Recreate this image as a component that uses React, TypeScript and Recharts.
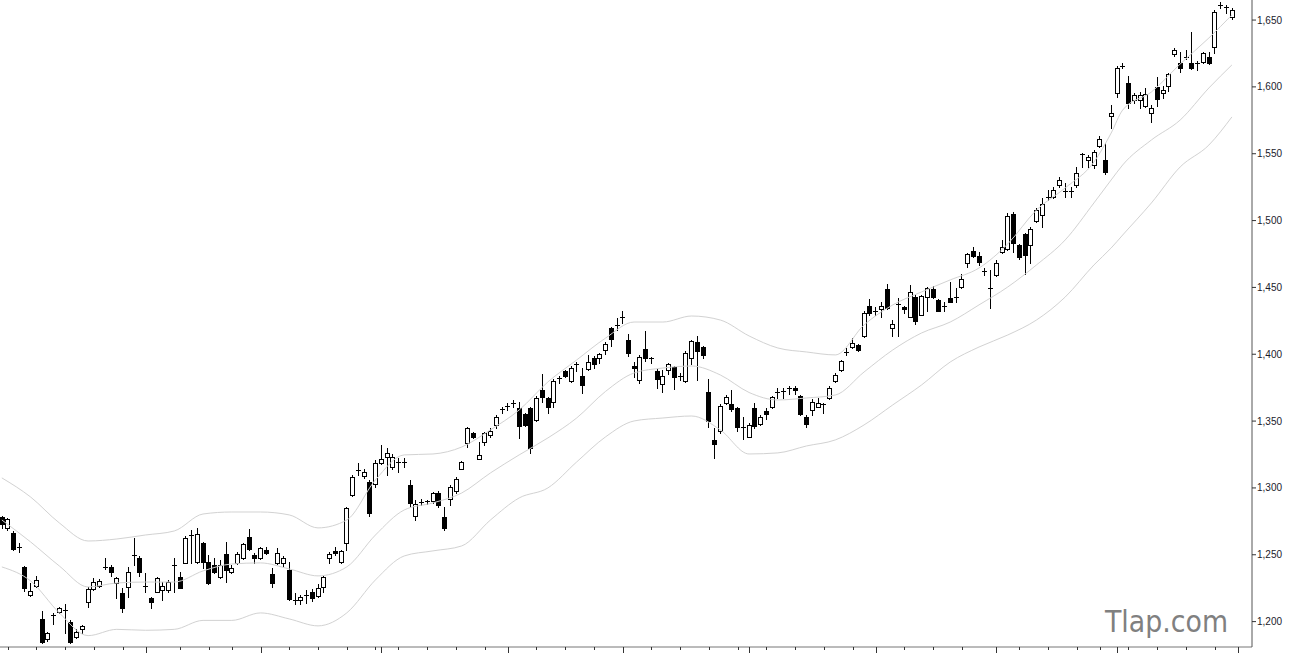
import React from 'react';
import { ComposedChart, Bar, Line, XAxis, YAxis } from 'recharts';

const opens = [
  1278.3, 1270.1, 1266.4, 1255.1, 1240.9, 1219.9, 1226.7, 1202.0, 1187.0, 1205.3,
  1207.2, 1208.9, 1199.7, 1188.5, 1194.5, 1214.7, 1224.4, 1226.7, 1240.6, 1240.9,
  1228.9, 1221.4, 1225.9, 1249.6, 1247.6, 1227.0, 1217.7, 1222.2, 1223.7, 1223.7,
  1242.0, 1233.4, 1243.9, 1264.5, 1244.6, 1258.8, 1244.6, 1242.4, 1233.4, 1250.6,
  1237.2, 1243.9, 1247.6, 1263.3, 1249.9, 1247.6, 1253.6, 1235.6, 1243.9, 1243.9,
  1238.6, 1216.2, 1216.2, 1219.6, 1222.2, 1219.2, 1225.9, 1247.6, 1252.9, 1244.6,
  1258.8, 1294.7, 1313.0, 1309.0, 1304.5, 1303.0, 1318.7, 1323.2, 1315.7, 1319.6,
  1319.2, 1302.2, 1279.0, 1289.3, 1289.5, 1290.2, 1296.2, 1278.3, 1291.7, 1297.7,
  1314.2, 1333.6, 1341.1, 1321.7, 1334.4, 1339.6, 1347.1, 1358.9, 1361.1, 1363.4,
  1359.8, 1355.3, 1359.8, 1350.8, 1373.3, 1367.3, 1364.3, 1382.0, 1387.5, 1380.0,
  1392.4, 1383.8, 1389.0, 1397.2, 1397.2, 1403.2, 1419.7, 1421.6, 1428.0, 1410.5,
  1391.2, 1380.8, 1404.0, 1397.5, 1387.5, 1377.4, 1388.2, 1390.4, 1383.6, 1380.0,
  1397.2, 1409.0, 1405.5, 1372.1, 1335.9, 1342.6, 1363.6, 1362.8, 1359.8, 1345.9,
  1338.1, 1359.8, 1347.8, 1357.6, 1360.6, 1371.8, 1372.4, 1374.8, 1375.1, 1368.8,
  1353.1, 1358.3, 1360.6, 1362.6, 1367.3, 1380.0, 1388.2, 1401.5, 1405.2, 1406.9,
  1413.5, 1436.1, 1432.2, 1433.9, 1448.8, 1419.7, 1437.4, 1435.4, 1427.9, 1442.8,
  1429.7, 1442.8, 1448.8, 1440.6, 1436.3, 1442.1, 1442.6, 1450.3, 1468.3, 1477.3,
  1473.5, 1462.1, 1449.8, 1459.3, 1476.5, 1478.7, 1504.9, 1481.7, 1489.9, 1481.7,
  1499.7, 1504.2, 1517.4, 1517.6, 1526.6, 1522.3, 1522.0, 1526.6, 1550.0, 1545.3,
  1541.6, 1555.8, 1545.3, 1578.2, 1595.4, 1615.4, 1602.9, 1590.2, 1590.2, 1585.7,
  1580.5, 1599.9, 1595.4, 1600.7, 1624.6, 1617.9, 1622.2, 1617.9, 1617.7, 1618.6,
  1622.4, 1629.8, 1661.1, 1659.6, 1652.3,
];

const highs = [
  1279.0, 1277.5, 1267.9, 1258.8, 1241.5, 1228.9, 1234.2, 1208.0, 1192.0, 1206.5,
  1211.0, 1213.2, 1201.2, 1194.5, 1197.2, 1225.9, 1232.7, 1232.0, 1247.6, 1242.4,
  1233.4, 1225.2, 1240.9, 1262.6, 1249.1, 1236.4, 1218.2, 1233.4, 1229.6, 1231.1,
  1247.6, 1237.2, 1264.1, 1268.6, 1270.1, 1259.5, 1249.9, 1247.6, 1246.1, 1259.5,
  1242.4, 1252.1, 1258.8, 1269.3, 1251.4, 1255.8, 1255.8, 1240.1, 1255.1, 1249.1,
  1244.6, 1221.4, 1219.9, 1223.7, 1224.4, 1228.2, 1234.9, 1252.1, 1255.8, 1253.6,
  1285.8, 1309.7, 1318.7, 1314.2, 1306.0, 1320.9, 1332.1, 1329.9, 1325.4, 1322.4,
  1322.4, 1306.0, 1291.0, 1291.7, 1291.0, 1297.0, 1297.7, 1285.8, 1302.2, 1308.2,
  1319.8, 1345.6, 1341.9, 1334.4, 1341.9, 1344.9, 1354.6, 1360.6, 1363.6, 1365.8,
  1364.3, 1356.1, 1360.6, 1368.8, 1385.2, 1368.1, 1381.5, 1383.8, 1388.2, 1391.2,
  1394.2, 1389.7, 1399.5, 1398.7, 1401.0, 1409.2, 1420.4, 1427.1, 1432.7, 1415.0,
  1394.2, 1399.5, 1417.4, 1398.0, 1389.0, 1388.2, 1393.5, 1391.2, 1386.0, 1402.5,
  1410.5, 1413.5, 1406.2, 1381.5, 1344.9, 1362.8, 1369.5, 1373.3, 1360.6, 1353.1,
  1348.6, 1363.6, 1354.6, 1359.8, 1368.8, 1374.4, 1375.1, 1376.6, 1375.9, 1369.5,
  1354.6, 1366.6, 1367.3, 1363.6, 1375.9, 1386.0, 1395.7, 1404.7, 1412.0, 1407.7,
  1432.0, 1441.3, 1435.4, 1439.1, 1452.6, 1425.6, 1442.1, 1435.8, 1451.8, 1444.3,
  1444.3, 1450.3, 1451.1, 1441.3, 1439.1, 1454.1, 1449.6, 1460.0, 1475.8, 1480.2,
  1476.5, 1464.5, 1463.0, 1470.5, 1485.5, 1505.7, 1506.4, 1482.1, 1490.7, 1495.2,
  1509.4, 1516.9, 1522.9, 1525.1, 1532.6, 1528.1, 1525.1, 1540.1, 1550.6, 1549.1,
  1552.8, 1563.3, 1558.0, 1586.5, 1615.6, 1617.9, 1608.2, 1595.4, 1596.2, 1599.2,
  1586.5, 1607.4, 1600.7, 1610.4, 1629.1, 1626.1, 1627.6, 1641.1, 1619.4, 1626.1,
  1626.1, 1657.5, 1663.5, 1661.3, 1659.0,
];

const lows = [
  1270.1, 1268.6, 1253.6, 1252.1, 1222.9, 1219.4, 1226.0, 1184.1, 1185.5, 1198.2,
  1206.8, 1191.5, 1184.1, 1187.8, 1191.5, 1211.0, 1224.0, 1225.9, 1239.4, 1234.2,
  1217.7, 1207.2, 1218.4, 1242.4, 1234.2, 1222.2, 1210.2, 1221.8, 1216.2, 1222.2,
  1222.2, 1224.8, 1243.5, 1243.9, 1244.0, 1240.1, 1228.2, 1236.4, 1232.7, 1229.6,
  1236.4, 1243.1, 1246.9, 1253.6, 1243.9, 1246.9, 1250.6, 1225.9, 1243.1, 1240.9,
  1216.2, 1213.2, 1213.2, 1213.9, 1215.4, 1218.4, 1222.2, 1243.9, 1249.9, 1244.2,
  1253.6, 1294.0, 1309.7, 1307.5, 1279.0, 1300.7, 1318.0, 1309.7, 1314.2, 1311.9,
  1315.7, 1285.8, 1276.0, 1287.3, 1288.0, 1288.8, 1285.8, 1268.6, 1287.3, 1296.2,
  1313.9, 1330.6, 1337.4, 1321.4, 1332.1, 1338.1, 1344.9, 1356.1, 1358.3, 1360.6,
  1337.4, 1346.3, 1326.2, 1350.1, 1364.3, 1356.1, 1360.6, 1378.5, 1383.0, 1379.2,
  1387.5, 1371.1, 1388.2, 1389.7, 1393.5, 1400.2, 1406.2, 1418.2, 1423.7, 1398.7,
  1383.0, 1378.5, 1395.0, 1393.5, 1374.4, 1372.1, 1385.2, 1374.0, 1380.8, 1379.6,
  1392.7, 1380.8, 1397.2, 1345.6, 1322.4, 1341.1, 1362.8, 1357.6, 1342.6, 1336.6,
  1337.8, 1344.9, 1347.1, 1351.6, 1359.8, 1367.3, 1367.3, 1370.6, 1369.9, 1354.6,
  1345.6, 1354.6, 1360.3, 1356.1, 1366.6, 1379.3, 1387.5, 1399.5, 1404.7, 1402.8,
  1412.8, 1429.0, 1429.0, 1427.9, 1433.9, 1413.7, 1413.5, 1430.9, 1427.5, 1423.0,
  1429.0, 1432.7, 1442.1, 1432.3, 1432.7, 1438.8, 1439.1, 1449.6, 1465.3, 1472.8,
  1466.8, 1459.3, 1434.6, 1458.6, 1476.1, 1478.0, 1476.5, 1471.3, 1460.0, 1468.3,
  1498.9, 1495.2, 1515.4, 1516.9, 1525.1, 1517.6, 1517.6, 1525.1, 1540.1, 1540.1,
  1539.4, 1555.0, 1534.8, 1569.3, 1592.4, 1614.1, 1584.2, 1588.0, 1584.2, 1585.0,
  1573.7, 1585.7, 1591.7, 1596.9, 1623.1, 1611.1, 1620.9, 1613.4, 1612.6, 1617.9,
  1617.1, 1625.4, 1659.0, 1655.3, 1650.8,
];

const closes = [
  1273.0, 1276.8, 1254.4, 1255.8, 1225.2, 1222.9, 1231.2, 1184.8, 1191.5, 1205.0,
  1210.2, 1208.7, 1184.8, 1192.3, 1196.8, 1224.4, 1229.6, 1230.4, 1240.9, 1237.2,
  1232.7, 1210.2, 1237.2, 1249.1, 1237.2, 1226.7, 1214.7, 1232.7, 1226.7, 1229.6,
  1242.4, 1225.2, 1262.6, 1264.9, 1265.6, 1244.6, 1228.9, 1237.2, 1242.4, 1238.6,
  1240.1, 1250.6, 1258.1, 1254.4, 1247.6, 1255.1, 1251.4, 1228.9, 1251.4, 1247.6,
  1216.9, 1215.4, 1218.4, 1219.9, 1217.7, 1225.2, 1233.4, 1250.6, 1251.4, 1252.9,
  1285.0, 1308.2, 1313.4, 1311.9, 1281.3, 1318.7, 1321.7, 1326.2, 1323.2, 1319.4,
  1319.4, 1288.8, 1288.0, 1289.5, 1290.2, 1296.2, 1287.3, 1270.1, 1300.7, 1306.7,
  1319.4, 1344.9, 1338.1, 1324.7, 1341.1, 1342.6, 1353.1, 1359.1, 1361.3, 1363.6,
  1346.3, 1347.1, 1329.9, 1367.3, 1368.1, 1360.6, 1380.0, 1382.3, 1383.8, 1389.7,
  1392.7, 1377.0, 1394.2, 1392.7, 1400.2, 1407.7, 1411.4, 1421.9, 1428.2, 1401.0,
  1389.7, 1398.0, 1397.2, 1397.2, 1381.5, 1383.8, 1392.7, 1383.0, 1383.8, 1401.0,
  1409.7, 1402.5, 1399.5, 1350.1, 1332.9, 1361.3, 1368.1, 1359.1, 1345.6, 1345.6,
  1347.1, 1346.3, 1353.1, 1355.3, 1368.1, 1372.1, 1372.1, 1375.1, 1373.6, 1355.3,
  1347.8, 1364.3, 1363.6, 1362.8, 1375.1, 1384.5, 1395.0, 1401.7, 1408.2, 1403.2,
  1431.2, 1431.2, 1432.0, 1436.1, 1434.6, 1422.6, 1437.6, 1433.9, 1446.6, 1424.5,
  1443.6, 1449.6, 1442.8, 1432.7, 1436.1, 1439.1, 1442.8, 1456.3, 1475.0, 1473.5,
  1469.0, 1462.3, 1449.6, 1468.3, 1480.2, 1503.4, 1483.2, 1472.8, 1474.3, 1493.7,
  1507.9, 1512.4, 1517.6, 1522.9, 1530.4, 1522.1, 1522.1, 1535.6, 1549.8, 1547.6,
  1551.3, 1561.0, 1536.3, 1580.5, 1614.1, 1615.6, 1588.0, 1593.9, 1593.9, 1594.7,
  1584.2, 1590.9, 1597.7, 1609.6, 1627.6, 1614.1, 1622.4, 1614.1, 1617.9, 1625.4,
  1617.9, 1656.0, 1661.3, 1659.8, 1657.5,
];

// band readings, taken at these candle positions
const bandIndex = [
  0, 5, 10, 15, 20, 25, 30, 35, 40, 45, 50, 55, 60, 65, 70, 75, 80, 85, 90, 95,
  100, 105, 110, 115, 120, 125, 130, 135, 140, 145, 150, 155, 160, 165, 170, 175,
  180, 185, 190, 193, 195, 200, 205, 210, 214,
];
const upperBand = [
  1307.5, 1293.2, 1273.8, 1260.3, 1261.8, 1264.8, 1267.8, 1280.5, 1282.0, 1282.0,
  1279.8, 1270.1, 1276.0, 1306.0, 1324.7, 1325.4, 1330.6, 1343.4, 1358.3, 1379.3,
  1395.7, 1412.0, 1424.1, 1424.1, 1428.6, 1425.6, 1413.7, 1404.7, 1401.7, 1399.5,
  1421.9, 1436.9, 1446.6, 1455.6, 1464.5, 1482.5, 1507.9, 1524.4, 1543.8, 1565.5,
  1582.7, 1596.2, 1617.1, 1636.6, 1653.8,
];
const middleBand = [
  1276.0, 1259.6, 1241.6, 1225.9, 1228.9, 1229.6, 1229.6, 1237.9, 1243.1, 1243.9,
  1239.4, 1234.2, 1240.9, 1264.8, 1283.5, 1288.8, 1296.2, 1311.2, 1324.7, 1337.4,
  1352.3, 1372.1, 1386.0, 1389.7, 1391.2, 1384.5, 1371.4, 1365.8, 1367.3, 1369.5,
  1386.7, 1403.2, 1415.9, 1424.1, 1436.9, 1450.3, 1466.8, 1485.5, 1513.2, 1530.4,
  1541.6, 1560.3, 1575.2, 1599.2, 1616.4,
];
const lowerBand = [
  1240.9, 1230.4, 1206.5, 1189.5, 1194.2, 1193.5, 1194.2, 1200.9, 1200.9, 1206.5,
  1202.0, 1196.8, 1206.5, 1231.2, 1249.1, 1252.9, 1256.6, 1276.0, 1292.5, 1300.0,
  1319.4, 1338.1, 1350.1, 1352.3, 1353.8, 1343.4, 1325.4, 1326.2, 1331.4, 1335.9,
  1347.1, 1362.1, 1377.0, 1394.2, 1405.4, 1414.4, 1425.6, 1442.8, 1466.8, 1479.5,
  1489.2, 1513.2, 1540.1, 1556.5, 1577.5,
];

const majorTicks = [25, 45, 66, 88, 108, 130, 152, 173, 194, 215];
const minorTicks = [
  1, 6, 11, 16, 21, 31, 36, 40, 50, 55, 60, 65, 69, 74, 79, 84, 93, 98, 103, 113,
  118, 123, 128, 133, 138, 143, 148, 157, 162, 167, 177, 182, 187, 191, 196, 201, 206, 211,
];
const yTicks = [1200, 1250, 1300, 1350, 1400, 1450, 1500, 1550, 1600, 1650];
const yDomain = [1181, 1665];
const SLOT_COUNT = 218;

const data = Array.from({ length: SLOT_COUNT }, (_, i) => {
  const row: any = { slot: i };
  if (i < opens.length) {
    row.open = opens[i];
    row.high = highs[i];
    row.low = lows[i];
    row.close = closes[i];
    row.range = [lows[i], highs[i]];
  }
  const b = bandIndex.indexOf(i);
  if (b >= 0) {
    row.upper = upperBand[b];
    row.middle = middleBand[b];
    row.lower = lowerBand[b];
  }
  return row;
});

const allTicks = [...majorTicks, ...minorTicks].sort((a, b) => a - b);

function Candle(props: any) {
  const { x, y, width, height, payload } = props;
  if (!payload || payload.open == null || !isFinite(y) || !isFinite(height)) return null;
  const { open, high, low, close } = payload;
  const span = high - low;
  const toY = (v: number) => (span > 0 ? y + ((high - v) / span) * height : y);
  const cx = Math.round(x + width / 2);
  const wx = cx + 0.5;
  const yHigh = Math.round(toY(high));
  const yLow = Math.round(toY(low));
  const yo = toY(open);
  const yc = toY(close);
  const top = Math.round(Math.min(yo, yc));
  const bot = Math.round(Math.max(yo, yc));
  const up = close >= open;
  return (
    <g>
      <line x1={wx} x2={wx} y1={yHigh} y2={yLow + 1} stroke="#000" strokeWidth={1} />
      {bot - top < 2 ? (
        <line x1={cx - 2} x2={cx + 3} y1={top + 0.5} y2={top + 0.5} stroke="#000" strokeWidth={1} />
      ) : (
        <rect
          x={cx - 1.5}
          y={top + 0.5}
          width={4}
          height={bot - top}
          fill={up ? '#fff' : '#000'}
          stroke="#000"
          strokeWidth={1}
        />
      )}
    </g>
  );
}

function XTick(props: any) {
  const { x, y, payload } = props;
  const major = majorTicks.includes(payload.value);
  const px = Math.round(x) + 0.5;
  return <line x1={px} x2={px} y1={y} y2={y + (major ? 6 : 3)} stroke="#333" strokeWidth={1} />;
}

export default function App() {
  return (
    <div style={{ position: 'absolute', left: 0, top: 0, width: 1290, height: 664, overflow: 'hidden', background: '#fff' }}>
      <div style={{ position: 'absolute', left: -1, top: 0 }}>
        <ComposedChart width={1291} height={664} data={data} margin={{ top: 0, right: 0, bottom: 0, left: 0 }}>
          <XAxis
            dataKey="slot"
            type="category"
            ticks={allTicks}
            interval={0}
            tickLine={false}
            tickSize={0}
            tickMargin={0}
            height={17}
            axisLine={{ stroke: '#777' }}
            tick={<XTick />}
          />
          <YAxis
            orientation="right"
            width={38}
            domain={yDomain}
            allowDataOverflow
            ticks={yTicks}
            interval={0}
            tickSize={4}
            tickMargin={1}
            axisLine={{ stroke: '#555' }}
            tickLine={{ stroke: '#333' }}
            tick={{ fontSize: 10, fontFamily: '"Liberation Sans", Arial, sans-serif', fill: '#1a1a2a' }}
            tickFormatter={(v: number) => v.toLocaleString('en-US')}
          />
          <Line dataKey="upper" type="monotone" stroke="#d2d2d2" strokeWidth={1} dot={false} activeDot={false} connectNulls isAnimationActive={false} />
          <Line dataKey="middle" type="monotone" stroke="#d2d2d2" strokeWidth={1} dot={false} activeDot={false} connectNulls isAnimationActive={false} />
          <Line dataKey="lower" type="monotone" stroke="#d2d2d2" strokeWidth={1} dot={false} activeDot={false} connectNulls isAnimationActive={false} />
          <Bar dataKey="range" barSize={5} shape={Candle} isAnimationActive={false} />
        </ComposedChart>
      </div>
      <svg width={1290} height={664} style={{ position: 'absolute', left: 0, top: 0, pointerEvents: 'none' }}>
        <text
          x={1105}
          y={632}
          fontSize={31}
          fontFamily='"DejaVu Sans", Verdana, sans-serif'
          fill="#808080"
          textLength={123}
          lengthAdjust="spacingAndGlyphs"
        >
          Tlap.com
        </text>
      </svg>
    </div>
  );
}
